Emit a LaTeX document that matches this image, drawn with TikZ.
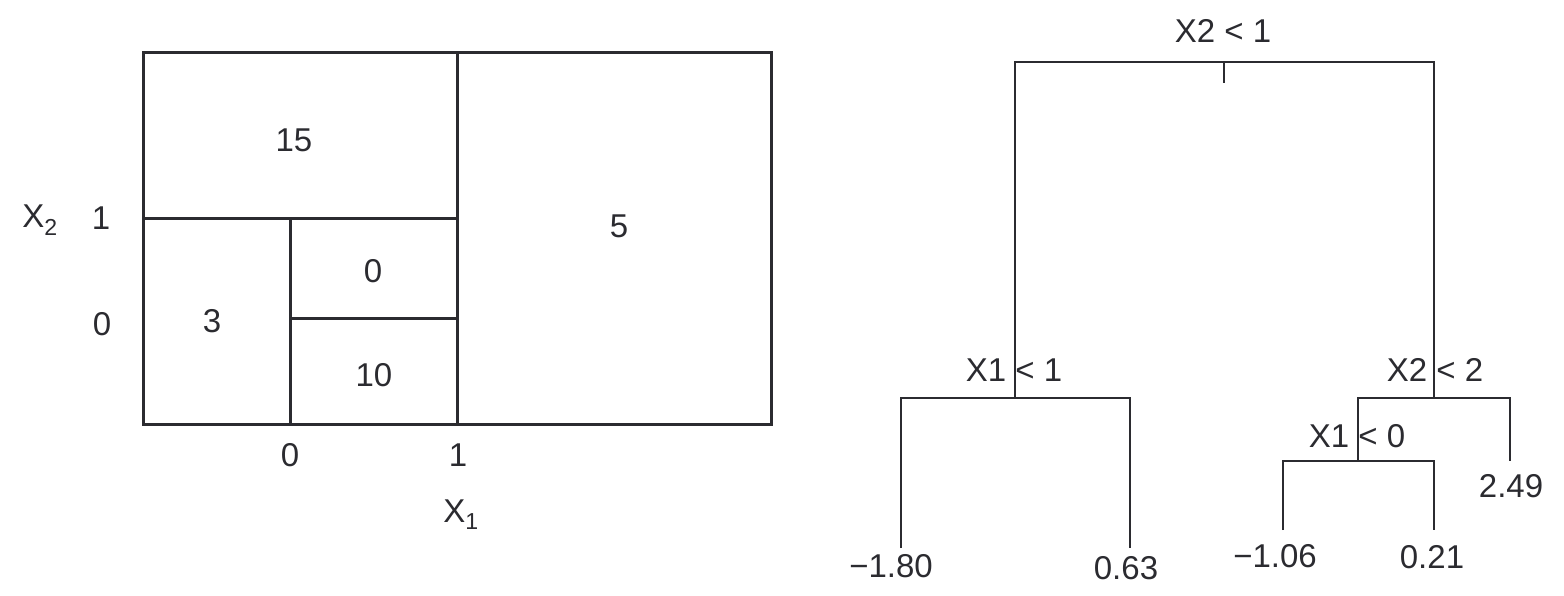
\documentclass[tikz,border=0pt]{standalone}
\usepackage{fontspec}
\setmainfont{Liberation Sans}
\usetikzlibrary{positioning}
\definecolor{inkgray}{HTML}{2B2B30}
\tikzset{
  panelline/.style={draw=inkgray, line width=3pt},
  treeline/.style={draw=inkgray, line width=1.5pt},
  numtext/.style={font=\fontsize{33}{40}\selectfont, text=inkgray, inner sep=0pt},
  axtext/.style={numtext, anchor=base}
}
\newcommand{\axsub}[1]{\textsubscript{#1}}

\begin{document}
\begin{tikzpicture}[x=1pt, y=-1pt]
  \useasboundingbox (0,0) rectangle (1564,596);
  % partition of the feature space
  \draw[panelline] (143,53) rectangle (771,424);
  \draw[panelline] (457,53) -- (457,424);
  \draw[panelline] (143,219) -- (457,219);
  \draw[panelline] (290,219) -- (290,424);
  \draw[panelline] (290,318) -- (457,318);
  \node[numtext] (r15) at (294,140) {15};
  \node[numtext] (r5) at (619,226) {5};
  \node[numtext] (r0) at (373,271) {0};
  \node[numtext] (r3) at (212,321) {3};
  \node[numtext] (r10) at (374,375) {10};
  \node[axtext] (xtwo) at (40,228) {X\axsub{2}};
  \node[numtext] (ytick1) at (101,218) {1};
  \node[numtext] (ytick0) at (102,324) {0};
  \node[numtext] (xtick0) at (290,455) {0};
  \node[numtext] (xtick1) at (458,455) {1};
  \node[axtext] (xone) at (461,522) {X\axsub{1}};
  % regression tree
  \coordinate (root) at (1224,62);
  \coordinate (rootTick) at (1224,83);
  \coordinate (lsplit) at (1015,398);
  \coordinate (rsplit) at (1434,398);
  \coordinate (rlsplit) at (1358,461);
  \coordinate (leafA) at (901,548);
  \coordinate (leafB) at (1130,548);
  \coordinate (leafC) at (1283,530);
  \coordinate (leafD) at (1434,530);
  \coordinate (leafE) at (1510,461);
  \draw[treeline] (lsplit) |- (root) -| (rsplit);
  \draw[treeline] (root) -- (rootTick);
  \draw[treeline] (leafA) |- (lsplit) -| (leafB);
  \draw[treeline] (rlsplit) |- (rsplit) -| (leafE);
  \draw[treeline] (leafC) |- (rlsplit) -| (leafD);
  \node[numtext] (rootlab) at (1223,31) {X2 < 1};
  \node[numtext] (llab) at (1014,370) {X1 < 1};
  \node[numtext] (rlab) at (1435,370) {X2 < 2};
  \node[numtext] (rllab) at (1357,436) {X1 < 0};
  \node[numtext] (valA) at (891,566) {−1.80};
  \node[numtext] (valB) at (1126,568) {0.63};
  \node[numtext] (valC) at (1275,556) {−1.06};
  \node[numtext] (valD) at (1432,557) {0.21};
  \node[numtext] (valE) at (1511,486) {2.49};
\end{tikzpicture}
\end{document}
